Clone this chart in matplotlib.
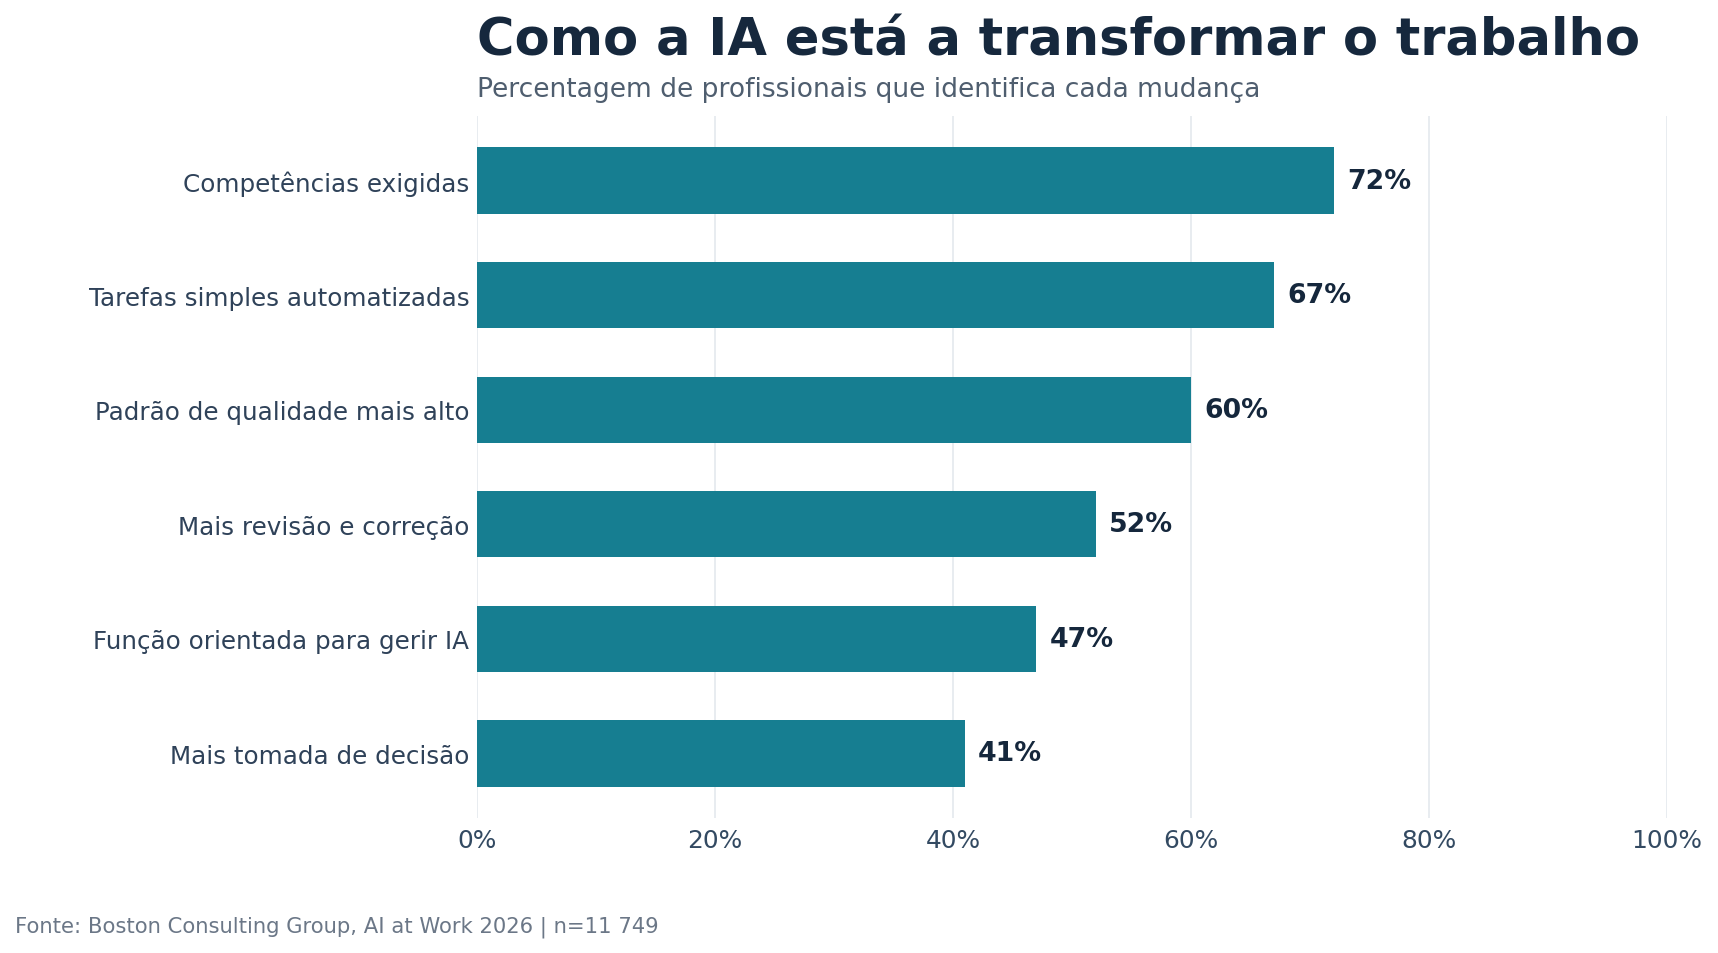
import matplotlib
matplotlib.use("Agg")
import matplotlib.pyplot as plt
from matplotlib.ticker import FuncFormatter

categories = [
    "Competências exigidas",
    "Tarefas simples automatizadas",
    "Padrão de qualidade mais alto",
    "Mais revisão e correção",
    "Função orientada para gerir IA",
    "Mais tomada de decisão",
]
values = [72, 67, 60, 52, 47, 41]
xticks = [0, 20, 40, 60, 80, 100]

title = "Como a IA está a transformar o trabalho"
subtitle = "Percentagem de profissionais que identifica cada mudança"
footer = "Fonte: Boston Consulting Group, AI at Work 2026 | n=11 749"

plt.rcParams['font.family'] = ['DejaVu Sans']

W, H = 1718, 954
fig = plt.figure(figsize=(W / 100, H / 100), dpi=100)
fig.patch.set_facecolor("white")
ax = fig.add_axes([477 / W, 1 - 819 / H, (1667 - 477) / W, (819 - 117) / H])

bar_color = "#167e91"
ypos = list(range(len(categories)))
ax.barh(ypos, values, height=0.58, color=bar_color, zorder=3)
ax.set_ylim(len(categories) - 1 + 0.565, -0.565)
ax.set_xlim(0, 100)

ax.set_yticks(ypos)
ax.set_yticklabels(categories, fontsize=17.7, color="#2f4259")
ax.set_xticks(xticks)
ax.xaxis.set_major_formatter(FuncFormatter(lambda v, p: f"{int(v)}%"))
ax.tick_params(axis='x', labelsize=17.9, colors="#334a62", length=0, pad=7)
ax.tick_params(axis='y', length=0, pad=5.5)
ax.grid(axis='x', color="#e6eaef", linewidth=1.3, zorder=0)
ax.grid(axis='y', visible=False)
for s in ax.spines.values():
    s.set_visible(False)

for y, v in zip(ypos, values):
    ax.annotate(f"{v}%", xy=(v, y), xytext=(9.5, 0), textcoords="offset points",
                va="center", ha="left", fontsize=19.3, fontweight="bold",
                color="#15273c")

fig.text(477 / W, 1 - 55 / H, title, fontsize=36.8, fontweight="bold",
         color="#16283d", ha="left", va="baseline")
fig.text(477 / W, 1 - 97 / H, subtitle, fontsize=19.1, color="#4f5e6f",
         ha="left", va="baseline")
fig.text(15 / W, 1 - 933 / H, footer, fontsize=15.2, color="#6b7787",
         ha="left", va="baseline")

fig.savefig("out.png", dpi=100, facecolor="white")
